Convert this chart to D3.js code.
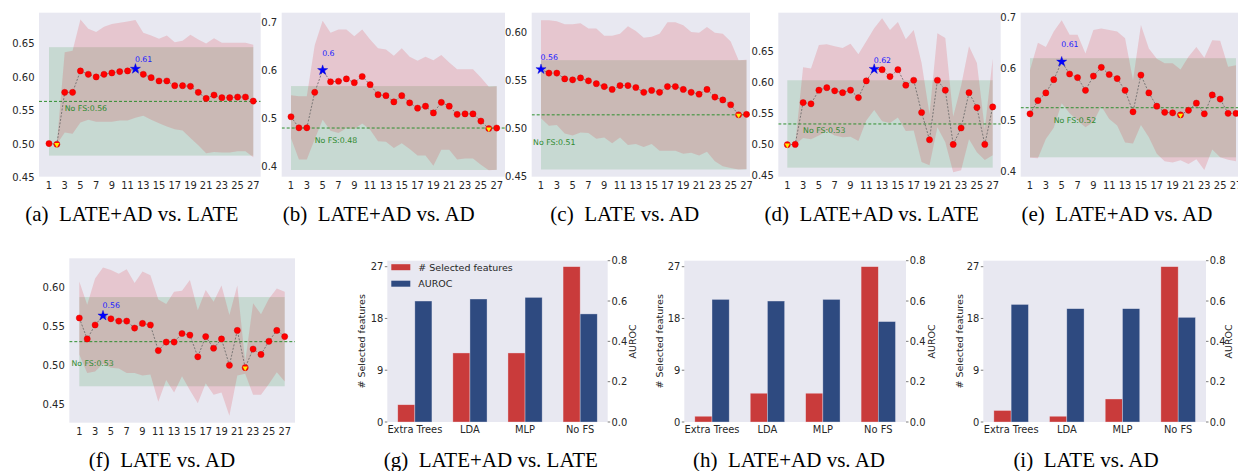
<!DOCTYPE html>
<html>
<head>
<meta charset="utf-8">
<script src="https://cdn.jsdelivr.net/npm/d3@7"></script>
<style>
  body { margin: 0; background: #fff; }
  svg { display: block; }
  text { font-family: "DejaVu Sans", sans-serif; fill: #262626; }
</style>
</head>
<body>
<svg id="fig" width="1238" height="471"></svg>
<script>
// number of selected features (x axis of the line panels)
const nFeat = [1, 2, 3, 4, 5, 6, 7, 8, 9, 10, 11, 12, 13, 14, 15, 16, 17, 18, 19, 20, 21, 22, 23, 24, 25, 26, 27]
const xTickLabels = [1, 3, 5, 7, 9, 11, 13, 15, 17, 19, 21, 23, 25, 27]

// (a) LATE+AD vs. LATE
const aucA = [0.5005, 0.4995, 0.577, 0.577, 0.609, 0.604, 0.600, 0.604, 0.606, 0.608, 0.609, 0.612, 0.604, 0.599, 0.594, 0.594, 0.587, 0.587, 0.586, 0.577, 0.568, 0.573, 0.569, 0.569, 0.570, 0.570, 0.564]
const stdA = [0, 0, 0.060, 0.062, 0.077, 0.068, 0.067, 0.071, 0.073, 0.073, 0.074, 0.073, 0.062, 0.063, 0.063, 0.068, 0.065, 0.067, 0.077, 0.079, 0.082, 0.085, 0.082, 0.082, 0.081, 0.081, 0.084]
// (b) LATE+AD vs. AD
const aucB = [0.504, 0.481, 0.481, 0.555, 0.601, 0.577, 0.578, 0.583, 0.575, 0.588, 0.571, 0.550, 0.548, 0.535, 0.548, 0.533, 0.522, 0.526, 0.512, 0.534, 0.526, 0.509, 0.510, 0.510, 0.495, 0.4795, 0.4805]
const stdB = [0.045, 0.066, 0.066, 0.098, 0.103, 0.102, 0.108, 0.103, 0.097, 0.098, 0.094, 0.097, 0.096, 0.096, 0.099, 0.096, 0.099, 0.103, 0.110, 0.099, 0.091, 0.094, 0.093, 0.093, 0.091, 0.087, 0.087]
// (c) LATE vs. AD
const aucC = [0.562, 0.558, 0.558, 0.552, 0.551, 0.553, 0.550, 0.547, 0.544, 0.541, 0.545, 0.545, 0.543, 0.538, 0.540, 0.538, 0.544, 0.544, 0.541, 0.538, 0.536, 0.541, 0.533, 0.530, 0.525, 0.5145, 0.515]
const stdC = [0.051, 0.055, 0.054, 0.057, 0.058, 0.057, 0.0545, 0.0575, 0.053, 0.056, 0.054, 0.062, 0.059, 0.057, 0.056, 0.061, 0.067, 0.067, 0.067, 0.063, 0.064, 0.065, 0.067, 0.069, 0.066, 0.057, 0.057]
// (d) LATE+AD vs. LATE
const aucD = [0.500, 0.5005, 0.568, 0.566, 0.588, 0.592, 0.587, 0.584, 0.588, 0.576, 0.603, 0.622, 0.621, 0.610, 0.621, 0.596, 0.604, 0.552, 0.508, 0.604, 0.588, 0.5005, 0.527, 0.584, 0.560, 0.5005, 0.561]
const stdD = [0, 0, 0.057, 0.057, 0.073, 0.070, 0.072, 0.072, 0.075, 0.070, 0.064, 0.066, 0.083, 0.075, 0.077, 0.074, 0.081, 0.080, 0.041, 0.076, 0.084, 0.045, 0.068, 0.075, 0.072, 0.025, 0.078]
// (e) LATE+AD vs. AD
const aucE = [0.512, 0.538, 0.553, 0.579, 0.614, 0.590, 0.583, 0.558, 0.586, 0.603, 0.589, 0.581, 0.558, 0.516, 0.588, 0.553, 0.527, 0.515, 0.514, 0.510, 0.519, 0.533, 0.512, 0.549, 0.541, 0.513, 0.513]
const stdE = [0.086, 0.113, 0.090, 0.094, 0.081, 0.077, 0.084, 0.072, 0.090, 0.076, 0.087, 0.092, 0.102, 0.062, 0.098, 0.087, 0.093, 0.096, 0.097, 0.089, 0.105, 0.110, 0.110, 0.107, 0.114, 0.091, 0.094]
// (f) LATE vs. AD
const aucF = [0.561, 0.534, 0.552, 0.564, 0.560, 0.557, 0.557, 0.548, 0.554, 0.552, 0.519, 0.530, 0.530, 0.541, 0.539, 0.511, 0.537, 0.522, 0.534, 0.500, 0.545, 0.497, 0.521, 0.514, 0.531, 0.545, 0.537]
const stdF = [0.047, 0.044, 0.060, 0.062, 0.063, 0.061, 0.067, 0.058, 0.067, 0.064, 0.066, 0.049, 0.065, 0.055, 0.071, 0.060, 0.060, 0.060, 0.069, 0.065, 0.058, 0.008, 0.059, 0.052, 0.055, 0.054, 0.058]

// baseline without feature selection, one per line panel
const noFsAuc = [0.5635, 0.4805, 0.5145, 0.5335, 0.524, 0.5305]
const noFsStd = [0.081, 0.0875, 0.057, 0.0705, 0.097, 0.0575]

const lineYTicks = [
  [0.45, 0.50, 0.55, 0.60, 0.65],
  [0.4, 0.5, 0.6, 0.7],
  [0.45, 0.50, 0.55, 0.60],
  [0.45, 0.50, 0.55, 0.60, 0.65],
  [0.4, 0.5, 0.6, 0.7],
  [0.45, 0.50, 0.55, 0.60],
]
const lineCaptions = ['(a)', '(b)', '(c)', '(d)', '(e)', '(f)']
const lineTitles = ['LATE+AD vs. LATE', 'LATE+AD vs. AD', 'LATE vs. AD', 'LATE+AD vs. LATE', 'LATE+AD vs. AD', 'LATE vs. AD']

// bar panels
const barCats = ['Extra Trees', 'LDA', 'MLP', 'No FS']
const featG = [3, 12, 12, 27]
const aurocG = [0.600, 0.610, 0.618, 0.536]
const featH = [1, 5, 5, 27]
const aurocH = [0.608, 0.600, 0.608, 0.498]
const featI = [2, 1, 4, 27]
const aurocI = [0.583, 0.562, 0.562, 0.519]
const featTicks = [0, 9, 18, 27]
const aurocTicks = [0.0, 0.2, 0.4, 0.6, 0.8]
const barCaptions = ['(g)', '(h)', '(i)']
const barTitles = ['LATE+AD vs. LATE', 'LATE+AD vs. AD', 'LATE vs. AD']
const legendLabels = ['# Selected features', 'AUROC']

// NOTE: layout of each panel, in page pixels
const lineLayout = [
  { x0: 39, x1: 260.7, y0: 12.7, y1: 176.7, p1: 49, p27: 253.3, yDom: [0.451, 0.696], dec: 2, capX: 131.7, capY: 221, starDy: 0.010, fsX: 3, fsDy: 0.015 },
  { x0: 281.7, x1: 505, y0: 12.7, y1: 176.7, p1: 291, p27: 496.7, yDom: [0.379, 0.721], dec: 1, capX: 378.7, capY: 221, starDy: 0.030, fsX: 4, fsDy: 0.031 },
  { x0: 531.7, x1: 750, y0: 12.7, y1: 176.7, p1: 541, p27: 746.5, yDom: [0.450, 0.621], dec: 2, capX: 624.7, capY: 221, starDy: 0.010, fsX: 0, fsDy: 0.031 },
  { x0: 778.3, x1: 1000.7, y0: 12.7, y1: 176.7, p1: 787.3, p27: 992.7, yDom: [0.4484, 0.713], dec: 2, capX: 871.7, capY: 221, starDy: 0.0095, fsX: 3, fsDy: 0.0145 },
  { x0: 1020.7, x1: 1238, y0: 12.7, y1: 176.7, p1: 1030, p27: 1236, yDom: [0.389, 0.710], dec: 1, capX: 1117, capY: 221, starDy: 0.028, fsX: 4, fsDy: 0.029 },
  { x0: 69.3, x1: 295, y0: 258.3, y1: 422.7, p1: 79.3, p27: 284.7, yDom: [0.426, 0.638], dec: 2, capX: 162, capY: 467, starDy: 0.0095, fsX: 0, fsDy: 0.031 },
]
const barLayout = [
  { x0: 387.3, x1: 607.7, y0: 260.7, y1: 422, labL: 362, labR: 633, capX: 490.8, capY: 467, legend: true },
  { x0: 684.3, x1: 906, y0: 260.7, y1: 422, labL: 660, labR: 932, capX: 789, capY: 467, legend: false },
  { x0: 983.3, x1: 1206, y0: 260.7, y1: 422, labL: 959.3, labR: 1228.3, capX: 1086, capY: 467, legend: false },
]

const BG = '#e8e8f1'
const RED_BAR = '#c93b3b'
const BLUE_BAR = '#2e4a80'

const svg = d3.select('#fig')

function caption(cx, cy, tag, title) {
  svg.append('text')
    .attr('x', cx)
    .attr('y', cy)
    .attr('text-anchor', 'middle')
    .style('font-family', '"Liberation Serif", "Times New Roman", serif')
    .style('font-size', '21px')
    .style('fill', '#000')
    .text(`${tag}\u2002${title}`)
}

function drawLinePanel(i, auc, std) {
  const L = lineLayout[i]
  const x = d3.scaleLinear().domain([1, 27]).range([L.p1, L.p27])
  const y = d3.scaleLinear().domain(L.yDom).range([L.y1, L.y0])
  const g = svg.append('g').attr('class', 'line-panel')

  // NOTE: panel background + clip
  const clipId = `clip-line-${i}`
  svg.append('clipPath').attr('id', clipId)
    .append('rect')
    .attr('x', L.x0).attr('y', L.y0)
    .attr('width', L.x1 - L.x0).attr('height', L.y1 - L.y0)

  g.append('rect')
    .attr('x', L.x0).attr('y', L.y0)
    .attr('width', L.x1 - L.x0).attr('height', L.y1 - L.y0)
    .attr('fill', BG)

  const inner = g.append('g').attr('clip-path', `url(#${clipId})`)

  // NOTE: no-FS mean +- std band
  inner.append('rect')
    .attr('x', x(1)).attr('width', x(27) - x(1))
    .attr('y', y(noFsAuc[i] + noFsStd[i]))
    .attr('height', y(noFsAuc[i] - noFsStd[i]) - y(noFsAuc[i] + noFsStd[i]))
    .attr('fill', 'rgb(0,130,20)')
    .attr('fill-opacity', 0.14)

  // NOTE: auc mean +- std band
  const area = d3.area()
    .x((d, k) => x(nFeat[k]))
    .y0((d, k) => y(d - std[k]))
    .y1((d, k) => y(d + std[k]))
  inner.append('path')
    .datum(auc)
    .attr('d', area)
    .attr('fill', 'rgb(220,30,40)')
    .attr('fill-opacity', 0.17)

  // NOTE: no-FS reference line
  inner.append('line')
    .attr('x1', L.x0).attr('x2', L.x1)
    .attr('y1', y(noFsAuc[i])).attr('y2', y(noFsAuc[i]))
    .attr('stroke', '#2f8f2f')
    .attr('stroke-width', 1)
    .attr('stroke-dasharray', '3,2')

  inner.append('text')
    .attr('x', x(L.fsX))
    .attr('y', y(noFsAuc[i] - L.fsDy))
    .style('font-size', '7.8px')
    .style('fill', '#2f8a2f')
    .text(`No FS:${Math.round(noFsAuc[i] * 100) / 100}`)

  // NOTE: connecting dashed line
  const line = d3.line().x((d, k) => x(nFeat[k])).y(d => y(d))
  inner.append('path')
    .datum(auc)
    .attr('d', line)
    .attr('fill', 'none')
    .attr('stroke', '#666')
    .attr('stroke-width', 0.8)
    .attr('stroke-dasharray', '2,1.5')

  const best = d3.maxIndex(auc)
  const worst = d3.minIndex(auc)

  inner.selectAll('circle.pt')
    .data(auc.map((v, k) => ({ v, k })).filter(d => d.k !== best))
    .join('circle')
    .attr('class', 'pt')
    .attr('cx', d => x(nFeat[d.k]))
    .attr('cy', d => y(d.v))
    .attr('r', 3.1)
    .attr('fill', '#ff0000')
    .attr('stroke', '#d00000')
    .attr('stroke-width', 0.4)

  // NOTE: worst point marker
  inner.append('path')
    .attr('d', d3.symbol(d3.symbolTriangle, 12)())
    .attr('transform', `translate(${x(nFeat[worst])},${y(auc[worst]) + 0.4}) rotate(180)`)
    .attr('fill', '#ffee00')

  // NOTE: best point star + label
  inner.append('path')
    .attr('d', d3.symbol(d3.symbolStar, 32)())
    .attr('transform', `translate(${x(nFeat[best])},${y(auc[best])})`)
    .attr('fill', '#0000ff')
    .attr('stroke', '#0000cc')
    .attr('stroke-width', 0.4)

  inner.append('text')
    .attr('x', x(nFeat[best]) - 0.5)
    .attr('y', y(auc[best] + L.starDy))
    .style('font-size', '7.8px')
    .style('fill', '#2222ff')
    .text(Math.round(auc[best] * 100) / 100)

  // NOTE: tick labels
  g.selectAll('text.xt')
    .data(xTickLabels)
    .join('text')
    .attr('class', 'xt')
    .attr('x', d => x(d))
    .attr('y', L.y1 + 12)
    .attr('text-anchor', 'middle')
    .style('font-size', '9.9px')
    .text(d => d)

  g.selectAll('text.yt')
    .data(lineYTicks[i])
    .join('text')
    .attr('class', 'yt')
    .attr('x', L.x0 - 4.5)
    .attr('y', d => y(d))
    .attr('dy', '0.36em')
    .attr('text-anchor', 'end')
    .style('font-size', '10px')
    .text(d => d.toFixed(L.dec))

  caption(L.capX, L.capY, lineCaptions[i], lineTitles[i])
}

function drawBarPanel(i, feat, auroc) {
  const L = barLayout[i]
  const x = d3.scaleBand().domain(barCats).range([L.x0, L.x1]).padding(0)
  const yL = d3.scaleLinear().domain([0, 28.04]).range([L.y1, L.y0])
  const yR = d3.scaleLinear().domain([0, 0.8]).range([L.y1, L.y0])
  const w = x.bandwidth() * 0.31
  const g = svg.append('g').attr('class', 'bar-panel')

  g.append('rect')
    .attr('x', L.x0).attr('y', L.y0)
    .attr('width', L.x1 - L.x0).attr('height', L.y1 - L.y0)
    .attr('fill', BG)

  const cx = c => x(c) + x.bandwidth() / 2

  g.selectAll('rect.feat')
    .data(barCats)
    .join('rect')
    .attr('class', 'feat')
    .attr('x', c => cx(c) - w)
    .attr('width', w)
    .attr('y', (c, k) => yL(feat[k]))
    .attr('height', (c, k) => L.y1 - yL(feat[k]))
    .attr('fill', RED_BAR)
    .attr('stroke', '#f2e6ee')
    .attr('stroke-opacity', 0.6)
    .attr('stroke-width', 0.6)

  g.selectAll('rect.auroc')
    .data(barCats)
    .join('rect')
    .attr('class', 'auroc')
    .attr('x', c => cx(c))
    .attr('width', w)
    .attr('y', (c, k) => yR(auroc[k]))
    .attr('height', (c, k) => L.y1 - yR(auroc[k]))
    .attr('fill', BLUE_BAR)
    .attr('stroke', '#e6e6f2')
    .attr('stroke-opacity', 0.6)
    .attr('stroke-width', 0.6)

  // NOTE: category labels
  g.selectAll('text.cat')
    .data(barCats)
    .join('text')
    .attr('class', 'cat')
    .attr('x', c => cx(c))
    .attr('y', L.y1 + 11.3)
    .attr('text-anchor', 'middle')
    .style('font-size', '9.9px')
    .text(c => c)

  // NOTE: left axis
  featTicks.forEach(t => {
    g.append('line')
      .attr('x1', L.x0 - 2.5).attr('x2', L.x0)
      .attr('y1', yL(t)).attr('y2', yL(t))
      .attr('stroke', '#444').attr('stroke-width', 0.7)
    g.append('text')
      .attr('x', L.x0 - 4)
      .attr('y', yL(t))
      .attr('dy', '0.36em')
      .attr('text-anchor', 'end')
      .style('font-size', '9.9px')
      .text(t)
  })

  // NOTE: right axis
  aurocTicks.forEach(t => {
    g.append('line')
      .attr('x1', L.x1).attr('x2', L.x1 + 2.5)
      .attr('y1', yR(t)).attr('y2', yR(t))
      .attr('stroke', '#444').attr('stroke-width', 0.7)
    g.append('text')
      .attr('x', L.x1 + 3.8)
      .attr('y', yR(t))
      .attr('dy', '0.36em')
      .style('font-size', '9.9px')
      .text(t.toFixed(1))
  })

  const midY = (L.y0 + L.y1) / 2
  g.append('text')
    .attr('transform', `translate(${L.labL},${midY}) rotate(-90)`)
    .attr('text-anchor', 'middle')
    .attr('dy', '0.35em')
    .style('font-size', '9.5px')
    .text(legendLabels[0])
  g.append('text')
    .attr('transform', `translate(${L.labR},${midY}) rotate(-90)`)
    .attr('text-anchor', 'middle')
    .attr('dy', '0.35em')
    .style('font-size', '9.5px')
    .text(legendLabels[1])

  if (L.legend) {
    const colors = [RED_BAR, BLUE_BAR]
    legendLabels.forEach((lab, k) => {
      const ly = L.y0 + 6.5 + k * 16.5
      g.append('rect')
        .attr('x', L.x0 + 4).attr('y', ly - 3)
        .attr('width', 19).attr('height', 6)
        .attr('fill', colors[k])
      g.append('text')
        .attr('x', L.x0 + 31)
        .attr('y', ly)
        .attr('dy', '0.36em')
        .style('font-size', '9.5px')
        .text(lab)
    })
  }

  caption(L.capX, L.capY, barCaptions[i], barTitles[i])
}

const lineSeries = [[aucA, stdA], [aucB, stdB], [aucC, stdC], [aucD, stdD], [aucE, stdE], [aucF, stdF]]
lineSeries.forEach(([auc, std], i) => drawLinePanel(i, auc, std))

const barSeries = [[featG, aurocG], [featH, aurocH], [featI, aurocI]]
barSeries.forEach(([feat, auroc], i) => drawBarPanel(i, feat, auroc))
</script>
</body>
</html>
